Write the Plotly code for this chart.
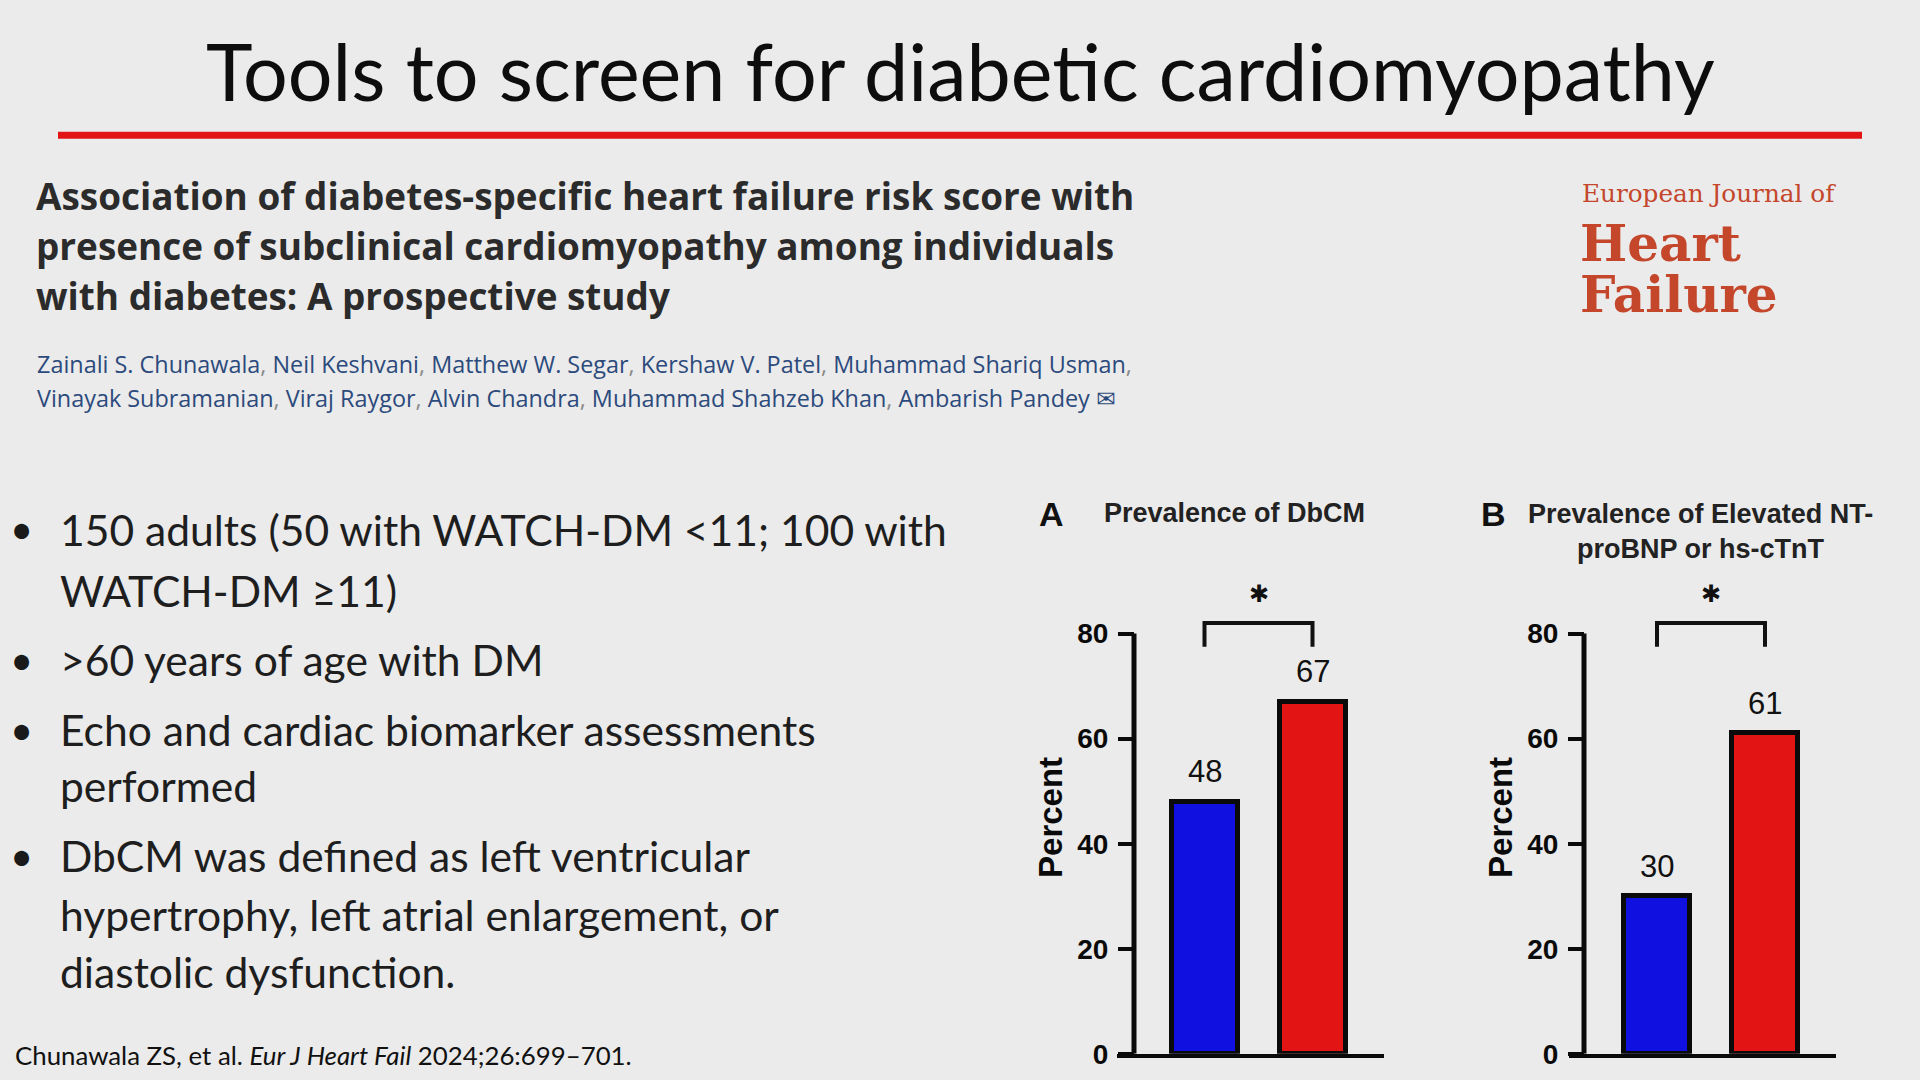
import plotly.graph_objects as go

# ---------------- data ----------------
groups = ["WATCH-DM <11", "WATCH-DM \u226511"]
dbcm_pct = [48, 67]
biomarker_pct = [30, 61]
bar_colors = ["#1010e0", "#e31414"]
y_ticks = [0, 20, 40, 60, 80]

slide_title = "Tools to screen for diabetic cardiomyopathy"
paper_title = ["Association of diabetes-specific heart failure risk score with",
               "presence of subclinical cardiomyopathy among individuals",
               "with diabetes: A prospective study"]
authors = [["Zainali S. Chunawala", "Neil Keshvani", "Matthew W. Segar", "Kershaw V. Patel",
            "Muhammad Shariq Usman"],
           ["Vinayak Subramanian", "Viraj Raygor", "Alvin Chandra", "Muhammad Shahzeb Khan",
            "Ambarish Pandey"]]
bullets = [["150 adults (50 with WATCH-DM <11; 100 with", "WATCH-DM \u226511)"],
           [">60 years of age with DM"],
           ["Echo and cardiac biomarker assessments", "performed"],
           ["DbCM was defined as left ventricular", "hypertrophy, left atrial enlargement, or",
            "diastolic dysfunction."]]
panel_titles = ["Prevalence of DbCM", "Prevalence of Elevated NT-<br>proBNP or hs-cTnT"]
panel_letters = ["A", "B"]

# ---------------- layout helpers ----------------
# page = 8px body margin + figure; the captured page is ~1097px tall
M = 8
PAGE_H = 1097
S = PAGE_H / 1080.0            # vertical stretch so the capture matches 1920x1080
W, H = 1920 - 2 * M, PAGE_H - 2 * M
BG = "#ebebeb"


def px(x):
    return (x - M) / W


def py(y):
    return (H - (y * S - M)) / H


def note(x, y, text, size, color, family, xanchor="center", yanchor="middle", **kw):
    return dict(xref="paper", yref="paper", x=px(x), y=py(y), text=text, showarrow=False,
                xanchor=xanchor, yanchor=yanchor,
                font=dict(family=family, size=size, color=color), **kw)


Y0_PX, PX_PER_UNIT = 1053, 5.25
Y_MAX = 90
y_dom = [py(Y0_PX), py(Y0_PX - Y_MAX * PX_PER_UNIT)]

panels = [
    dict(vals=dbcm_pct, xl=1117, xr=1384, c0=1204.5, yline=1134),
    dict(vals=biomarker_pct, xl=1569, xr=1836, c0=1657, yline=1584),
]
STEP = 108.0
BAR_W = 66 / STEP

fig = go.Figure()
shapes = []
annotations = []
CH = "Liberation Sans, Arial, sans-serif"

for i, p in enumerate(panels):
    n = "" if i == 0 else str(i + 1)
    xa, ya = "x" + n, "y" + n
    lo = -(p["c0"] - p["xl"]) / STEP
    hi = lo + (p["xr"] - p["xl"]) / STEP
    fig.add_trace(go.Bar(
        x=[0, 1], y=p["vals"], width=BAR_W, xaxis=xa, yaxis=ya,
        marker=dict(color=bar_colors, line=dict(color="#0a0a0a", width=5)),
        customdata=groups, hovertemplate="%{customdata}: %{y}%<extra></extra>",
        showlegend=False,
    ))
    fig.update_layout(**{
        ("xaxis" + n): dict(domain=[px(p["xl"]), px(p["xr"])], range=[lo, hi],
                            anchor=ya, showline=True, linewidth=4, linecolor="#0a0a0a",
                            showticklabels=False, ticks="", showgrid=False, zeroline=False,
                            fixedrange=True),
        ("yaxis" + n): dict(domain=y_dom, range=[0, Y_MAX], anchor="free",
                            position=px(p["yline"]), showline=False, showgrid=False,
                            zeroline=False, tickvals=y_ticks, ticks="outside", ticklen=16,
                            tickwidth=4, tickcolor="#0a0a0a",
                            tickfont=dict(family=CH, size=28, color="#0a0a0a", weight="bold"),
                            ticklabelstandoff=4,
                            title=dict(text="<b>Percent</b>", standoff=3,
                                       font=dict(family=CH, size=33, color="#0a0a0a")),
                            fixedrange=True),
    })
    xline = lo + (p["yline"] - p["xl"]) / STEP
    shapes.append(dict(type="line", xref=xa, yref=ya, x0=xline, x1=xline, y0=0, y1=y_ticks[-1],
                       line=dict(color="#0a0a0a", width=5)))
    shapes.append(dict(type="path", xref=xa, yref=ya,
                       path="M 0,77.5 L 0,82 L 1,82 L 1,77.5",
                       line=dict(color="#111111", width=4)))
    annotations.append(dict(xref=xa, yref=ya, x=0.5, y=87.5, text="\u2731", showarrow=False,
                            xanchor="center", yanchor="middle",
                            font=dict(family="DejaVu Sans", size=24, color="#111111")))
    for k, v in enumerate(p["vals"]):
        annotations.append(dict(xref=xa, yref=ya, x=k, y=v, yshift=30, text=str(v),
                                showarrow=False, xanchor="center", yanchor="middle",
                                font=dict(family=CH, size=31, color="#111111")))

annotations += [
    note(1051, 514, "<b>A</b>", 34, "#111111", CH),
    note(1234, 513, "<b>" + panel_titles[0] + "</b>", 27, "#222222", CH),
    note(1493, 514, "<b>B</b>", 34, "#111111", CH),
    note(1700, 531, "<b>" + panel_titles[1] + "</b>", 27, "#222222", CH, align="center"),
]

annotations.append(note(960, 70, slide_title, 79, "#0d0d0d", "Lato"))
shapes.append(dict(type="line", xref="paper", yref="paper", x0=px(58), x1=px(1862),
                   y0=py(135), y1=py(135), line=dict(color="#e31414", width=7)))

for j, line in enumerate(paper_title):
    annotations.append(note(34, 196 + 50 * j, "<b>" + line + "</b>", 36.9, "#2b2b2b",
                            "Open Sans", xanchor="left"))

for j, names in enumerate(authors):
    sep = "<span style='color:#8a8a8a'>, </span>"
    if j == 0:
        txt = sep.join(names) + "<span style='color:#8a8a8a'>,</span>"
    else:
        txt = sep.join(names) + " <span style='font-family:DejaVu Sans'>\u2709</span>"
    annotations.append(note(35, 364 + 34 * j, txt, 23.4, "#2c4a7c", "Open Sans",
                            xanchor="left"))

annotations += [
    note(1580, 193, "European Journal of", 24.7, "#c4462b", "DejaVu Serif", xanchor="left"),
    note(1578, 243, "<b>Heart</b>", 50, "#c4462b", "DejaVu Serif", xanchor="left"),
    note(1578, 294, "<b>Failure</b>", 50, "#c4462b", "DejaVu Serif", xanchor="left"),
]

line_y = [[529, 590], [659], [729, 785], [855, 914, 971]]
for b, lines in enumerate(bullets):
    annotations.append(note(21, line_y[b][0], "\u2022", 40, "#1a1a1a", "Lato"))
    for j, line in enumerate(lines):
        annotations.append(note(58, line_y[b][j], line, 42.6, "#1e1e1e", "Lato",
                                xanchor="left"))

annotations.append(note(13, 1054, "Chunawala ZS, et al. <i>Eur J Heart Fail</i> 2024;26:699\u2013701.",
                        25.8, "#111111", "Lato", xanchor="left"))

fig.update_layout(width=W, height=H, margin=dict(l=0, r=0, t=0, b=0),
                  paper_bgcolor=BG, plot_bgcolor=BG, bargap=0,
                  shapes=shapes, annotations=annotations, showlegend=False)

fig.write_html("out.html", config={"displayModeBar": False},
               post_script="document.body.style.background='%s';"
                           "document.documentElement.style.background='%s';" % (BG, BG))
